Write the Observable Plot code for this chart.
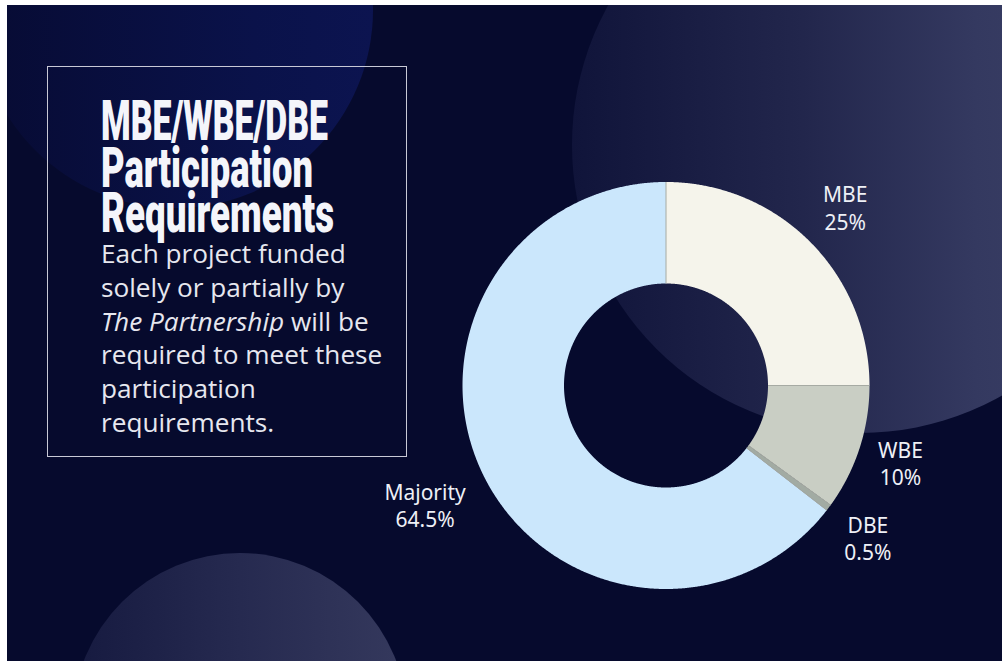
<!DOCTYPE html>
<html>
<head>
<meta charset="utf-8">
<script src="https://cdn.jsdelivr.net/npm/d3@7"></script>
<script src="https://cdn.jsdelivr.net/npm/@observablehq/plot@0.6"></script>
<style>
html,body{margin:0;padding:0;width:1002px;height:661px;overflow:hidden;background:#ffffff;}
#bg{position:absolute;left:7px;top:5px;width:995px;height:656px;background:#060a2d;overflow:hidden;}
.circ{position:absolute;border-radius:50%;}
#c1{left:-30px;top:-193px;width:396px;height:396px;background:linear-gradient(90deg,#070b33 0%,#0a124a 70%,#0c1450 100%);}
#c2{left:565px;top:-148px;width:576px;height:576px;background:linear-gradient(90deg,#10143a 0%,#22264c 40%,#343960 70%,#3e4367 100%);}
#c3{left:66px;top:548px;width:334px;height:334px;background:linear-gradient(90deg,#161a40 0%,#262a50 50%,#35395d 100%);}
#chart{position:absolute;left:0;top:0;}
#panel{position:absolute;left:0;top:0;}
</style>
</head>
<body>
<div id="bg">
  <div class="circ" id="c1"></div>
  <div class="circ" id="c2"></div>
  <div class="circ" id="c3"></div>
</div>
<div id="chart"></div>
<svg id="panel" width="1002" height="661" xmlns="http://www.w3.org/2000/svg">
  <rect x="47.5" y="66.5" width="359" height="390" fill="none" stroke="#c8c9d6" stroke-width="1"/>
  <g fill="#f4f5fa" font-family="Roboto, 'DejaVu Sans', sans-serif" font-weight="900" font-size="56">
    <text x="101" y="140" textLength="227" lengthAdjust="spacingAndGlyphs">MBE/WBE/DBE</text>
    <text x="101" y="187" textLength="212" lengthAdjust="spacingAndGlyphs">Participation</text>
    <text x="101" y="232" textLength="233" lengthAdjust="spacingAndGlyphs">Requirements</text>
  </g>
  <g fill="#e6e7ef" font-family="'Open Sans', sans-serif" font-size="26.2">
    <text x="101" y="263">Each project funded</text>
    <text x="101" y="297">solely or partially by</text>
    <text x="101" y="331"><tspan font-style="italic">The Partnership</tspan> will be</text>
    <text x="101" y="364">required to meet these</text>
    <text x="101" y="398">participation</text>
    <text x="101" y="432">requirements.</text>
  </g>
</svg>
<script>
// ---- data ----
const categories = ["MBE", "WBE", "DBE", "Majority"];
const shares = [25, 10, 0.5, 64.5];
const shareLabels = ["25%", "10%", "0.5%", "64.5%"];

// ---- layout ----
const CX = 665.5, CY = 385, R = 203.5;
const INNER = 102 / 203.5;
const LABEL_FONT = 21, LABEL_FAMILY = "'Noto Sans', 'Open Sans', sans-serif";

const rows = categories.map((c, i) => ({category: c, share: shares[i], label: shareLabels[i]}));
const arcs = d3.pie().sort(null).value(d => d.share)(rows);

// slice polygons in unit-circle coordinates (angle 0 at top, clockwise)
const poly = [];
for (const a of arcs) {
  const n = Math.max(4, Math.ceil((a.endAngle - a.startAngle) / 0.005));
  const pts = [];
  for (let k = 0; k <= n; k++) {
    const t = a.startAngle + (a.endAngle - a.startAngle) * k / n;
    pts.push([Math.sin(t), Math.cos(t)]);
  }
  for (let k = n; k >= 0; k--) {
    const t = a.startAngle + (a.endAngle - a.startAngle) * k / n;
    pts.push([INNER * Math.sin(t), INNER * Math.cos(t)]);
  }
  for (const [x, y] of pts) poly.push({category: a.data.category, x, y});
}

// radial separators
const bounds = arcs.map(a => ({
  x1: INNER * Math.sin(a.startAngle), y1: INNER * Math.cos(a.startAngle),
  x2: Math.sin(a.startAngle), y2: Math.cos(a.startAngle)
}));

// labels: label box pushed outward along the slice's mid-angle ray
const ctx = document.createElement("canvas").getContext("2d");
ctx.font = `${LABEL_FONT}px ${LABEL_FAMILY}`;
const ANCHOR = 223;
const labelRows = arcs.map(a => {
  const m = (a.startAngle + a.endAngle) / 2;
  const lines = [a.data.category, a.data.label];
  const halfW = Math.max(...lines.map(s => ctx.measureText(s).width)) / 2;
  const halfH = 21.5;
  const sx = Math.sin(m), cy = Math.cos(m);
  const edge = Math.min(halfW / Math.max(Math.abs(sx), 1e-6), halfH / Math.max(Math.abs(cy), 1e-6));
  const rr = (ANCHOR + edge) / R;
  return {x: rr * sx, y: rr * cy, text: lines.join("\n")};
});

const chart = Plot.plot({
  width: 1002,
  height: 661,
  margin: 0,
  x: {domain: [-1, 1], range: [CX - R, CX + R], axis: null},
  y: {domain: [-1, 1], range: [CY + R, CY - R], axis: null},
  color: {domain: categories, range: ["#f5f4eb", "#c9cec4", "#a2aba3", "#cbe7fc"]},
  style: {background: "transparent", overflow: "visible"},
  marks: [
    Plot.line(poly, {x: "x", y: "y", z: "category", fill: "category", stroke: "none", curve: "linear"}),
    Plot.link(bounds, {x1: "x1", y1: "y1", x2: "x2", y2: "y2", stroke: "#a6aaa3", strokeWidth: 1}),
    Plot.text(labelRows, {
      x: "x", y: "y", text: "text", dy: 1,
      fill: "#eef0f6", fontSize: LABEL_FONT, fontFamily: LABEL_FAMILY,
      lineHeight: 1.29, textAnchor: "middle", lineAnchor: "middle"
    })
  ]
});
document.getElementById("chart").appendChild(chart);
</script>
</body>
</html>
